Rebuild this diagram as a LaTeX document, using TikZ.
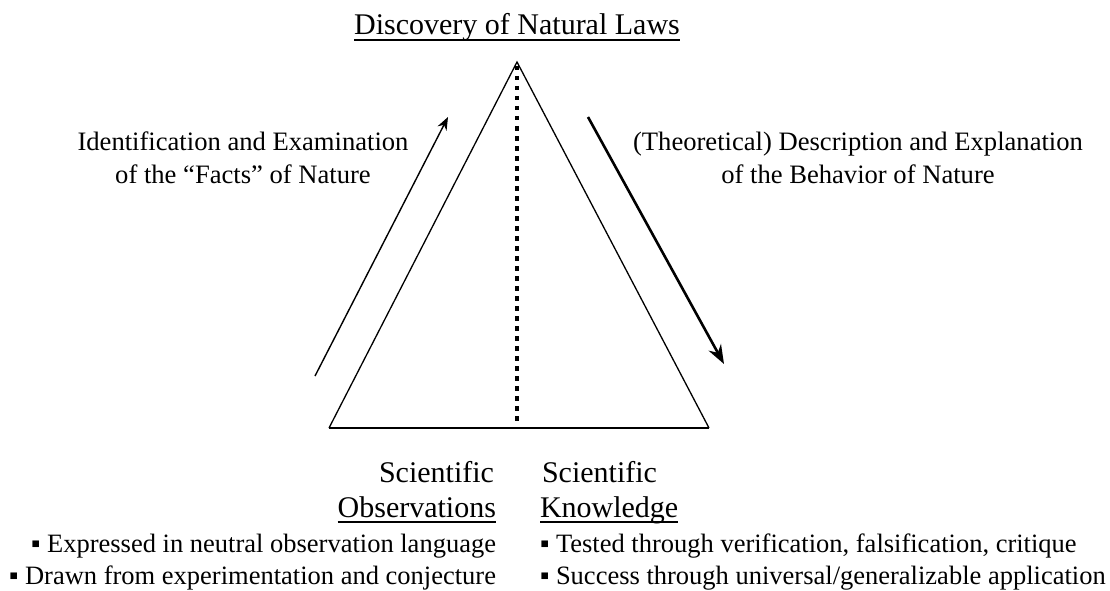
\documentclass[tikz,border=0pt]{standalone}
\usepackage{fontspec}
\setmainfont{Liberation Serif}
\usetikzlibrary{arrows.meta}

\begin{document}
\begin{tikzpicture}[x=1pt,y=-1pt,
  txt/.style={inner sep=0pt,outer sep=0pt},
  titlefont/.style={font=\fontsize{30}{34}\selectfont},
  sidefont/.style={font=\fontsize{26.6}{33}\selectfont},
  headfont/.style={font=\fontsize{30}{34}\selectfont},
  bulletfont/.style={font=\fontsize{26.5}{32}\selectfont},
  uline/.style={line width=1.6pt},
  pyramid/.style={line width=1.3pt,line join=miter},
  divider/.style={line width=4.5pt,dash pattern=on 4.5pt off 5.5pt},
  thinarrow/.style={line width=1.4pt,-{Stealth[length=13pt,width=10pt]}},
  thickarrow/.style={line width=2.6pt,-{Stealth[length=19pt,width=14pt]}}]

\useasboundingbox (0,0) rectangle (1110,591);

% the pyramid
\coordinate (apex) at (517,62);
\coordinate (bl) at (329,428);
\coordinate (br) at (709,428);
\draw[pyramid] (bl) -- (apex) -- (br);
\draw[line width=2pt] (bl) -- (br);

% dotted divider down the middle
\coordinate (dtop) at (517,66);
\coordinate (dbot) at (517,426);
\draw[divider] (dtop) -- (dbot);

% rising and falling arrows
\coordinate (upstart) at (315,376);
\coordinate (upend) at (448,117);
\draw[thinarrow] (upstart) -- (upend);
\coordinate (downstart) at (588,117);
\coordinate (downend) at (724,364);
\draw[thickarrow] (downstart) -- (downend);

% title
\node[txt,titlefont,anchor=base] (title) at (517,35) {Discovery of Natural Laws};
\draw[uline] ([yshift=-5pt]title.base west) -- ([yshift=-5pt]title.base east);

% side labels
\node[txt,sidefont,anchor=base] (left1) at (243,150) {Identification and Examination};
\node[txt,sidefont,anchor=base] (left2) at (243,183) {of the “Facts” of Nature};
\node[txt,sidefont,anchor=base] (right1) at (858,150) {(Theoretical) Description and Explanation};
\node[txt,sidefont,anchor=base] (right2) at (858,183) {of the Behavior of Nature};

% base headings
\node[txt,headfont,anchor=base east] (obs1) at (494,482) {Scientific};
\node[txt,headfont,anchor=base east] (obs2) at (496,517) {Observations};
\draw[uline] ([yshift=-5pt]obs2.base west) -- ([yshift=-5pt]obs2.base east);
\node[txt,headfont,anchor=base west] (know1) at (542,482) {Scientific};
\node[txt,headfont,anchor=base west] (know2) at (540,517) {Knowledge};
\draw[uline] ([yshift=-5pt]know2.base west) -- ([yshift=-5pt]know2.base east);

% bullet points
\node[txt,bulletfont,anchor=base east] (obsa) at (496,552) {▪ Expressed in neutral observation language};
\node[txt,bulletfont,anchor=base east] (obsb) at (496,584) {▪ Drawn from experimentation and conjecture};
\node[txt,bulletfont,anchor=base west] (knowa) at (540,552) {▪ Tested through verification, falsification, critique};
\node[txt,bulletfont,anchor=base west] (knowb) at (540,584) {▪ Success through universal/generalizable application};
\end{tikzpicture}
\end{document}
